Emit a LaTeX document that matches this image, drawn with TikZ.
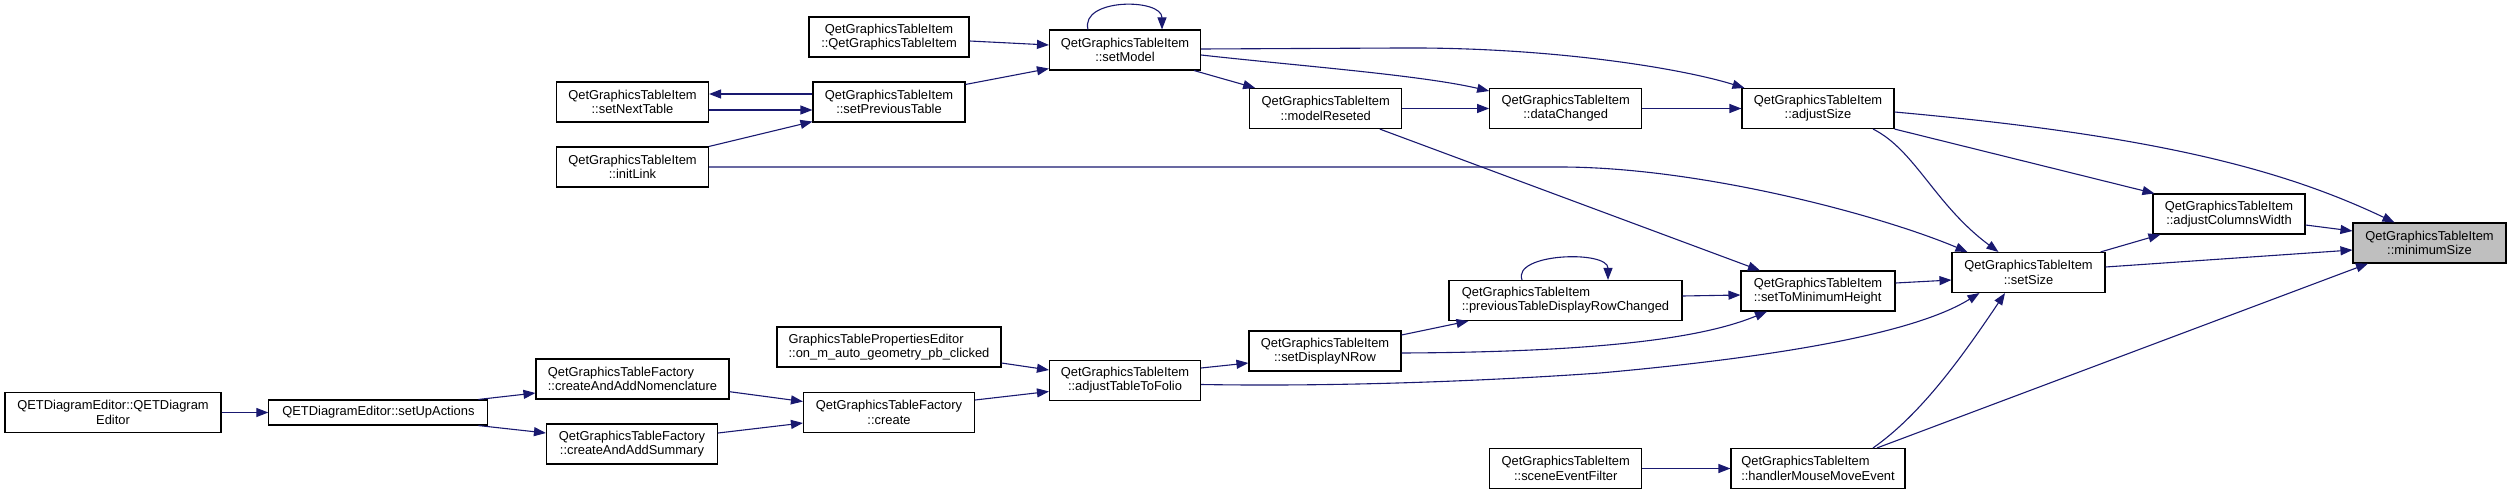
\documentclass[tikz,border=0pt]{standalone}
\usepackage{fontspec}
\setmainfont{Liberation Sans}
\usetikzlibrary{arrows.meta,calc}
\definecolor{edgeblue}{HTML}{191970}
\definecolor{rootfill}{HTML}{BFBFBF}
\begin{document}
\begin{tikzpicture}[x=1pt,y=-1pt,
  box/.style={draw=black, line width=1.1pt, fill=white, inner sep=0pt, minimum height=40pt, align=center, font=\fontsize{12.9}{14.3}\selectfont, text=black},
  lbox/.style={box, align=left},
  call/.style={draw=edgeblue, line width=1.1pt, -{Triangle[length=12pt,width=9pt]}}
]
\useasboundingbox (0,0) rectangle (2511,495);

\node[box, minimum width=216] (qetctor) at (113,412.5) {QETDiagramEditor::QETDiagram\\Editor};
\node[box, minimum width=219, minimum height=25] (setup) at (378.4,412.5) {QETDiagramEditor::setUpActions};
\node[lbox, minimum width=193] (nomen) at (632.5,379) {QetGraphicsTableFactory\\::createAndAddNomenclature};
\node[box, minimum width=171] (summary) at (632,444) {QetGraphicsTableFactory\\::createAndAddSummary};
\node[box, minimum width=171] (create) at (889,412.5) {QetGraphicsTableFactory\\::create};
\node[lbox, minimum width=224] (gtpe) at (889,347) {GraphicsTablePropertiesEditor\\::on\_m\_auto\_geometry\_pb\_clicked};
\node[box, minimum width=151] (adjfolio) at (1125,380.5) {QetGraphicsTableItem\\::adjustTableToFolio};
\node[box, minimum width=152] (dispnrow) at (1325,351) {QetGraphicsTableItem\\::setDisplayNRow};
\node[lbox, minimum width=233] (prevrow) at (1565.5,300.5) {QetGraphicsTableItem\\::previousTableDisplayRowChanged};
\node[lbox, minimum width=154] (tominh) at (1818,291) {QetGraphicsTableItem\\::setToMinimumHeight};
\node[box, minimum width=153] (setsize) at (2028.5,272.5) {QetGraphicsTableItem\\::setSize};
\node[box, minimum width=152] (adjcol) at (2229,214) {QetGraphicsTableItem\\::adjustColumnsWidth};
\node[box, fill=rootfill, minimum width=153] (minsize) at (2429.5,243) {QetGraphicsTableItem\\::minimumSize};
\node[box, minimum width=152] (scenefilter) at (1565.7,468.5) {QetGraphicsTableItem\\::sceneEventFilter};
\node[lbox, minimum width=174] (mousemove) at (1818,468.5) {QetGraphicsTableItem\\::handlerMouseMoveEvent};
\node[box, minimum width=160] (itemctor) at (889,37) {QetGraphicsTableItem\\::QetGraphicsTableItem};
\node[box, minimum width=151] (setmodel) at (1125,50) {QetGraphicsTableItem\\::setModel};
\node[box, minimum width=152] (nexttable) at (632.5,102) {QetGraphicsTableItem\\::setNextTable};
\node[box, minimum width=152] (prevtable) at (889,102) {QetGraphicsTableItem\\::setPreviousTable};
\node[box, minimum width=152] (initlink) at (632.5,167) {QetGraphicsTableItem\\::initLink};
\node[box, minimum width=152] (modelreset) at (1325.7,108.5) {QetGraphicsTableItem\\::modelReseted};
\node[box, minimum width=152] (datachanged) at (1565.7,108.5) {QetGraphicsTableItem\\::dataChanged};
\node[box, minimum width=152] (adjsize) at (1818,108.5) {QetGraphicsTableItem\\::adjustSize};

% edges into minimumSize
\draw[call] ($(adjcol.east)+(0,11)$) -- ($(minsize.west)+(0,-12)$);
\draw[call] ($(adjsize.east)+(0,3.5)$) .. controls (2150,135) and (2280,168) .. ($(minsize.north west)+(42,0)$);
\draw[call] ($(setsize.east)+(0,-5.5)$) -- ($(minsize.west)+(0,7)$);
\draw[call] ($(mousemove.north)+(59,0)$) -- ($(minsize.south)+(-61.5,0)$);
% adjustColumnsWidth
\draw[call] (adjsize.south east) -- ($(adjcol.north west)+(2,0)$);
\draw[call] ($(setsize.north east)+(-5,0)$) -- ($(adjcol.south west)+(8,0)$);
% setSize
\draw[call] ($(adjsize.south)+(55,0)$) .. controls (1915,150) and (1935,205) .. ($(setsize.north west)+(47,0)$);
\draw[call] (initlink.east) -- (1560,167) .. controls (1700,167) and (1880,215) .. ($(setsize.north west)+(16,0)$);
\draw[call] ($(tominh.east)+(0,-8)$) -- ($(setsize.west)+(0,7.5)$);
\draw[call] ($(adjfolio.east)+(0,4)$) .. controls (1350,387) and (1500,380) .. (1600,373) .. controls (1800,355) and (1920,330) .. ($(setsize.south)+(-49,0)$);
\draw[call] ($(mousemove.north)+(55,0)$) .. controls (1920,415) and (1960,360) .. ($(setsize.south)+(-23.5,0)$);
% setToMinimumHeight
\draw[call] ($(modelreset.south)+(54,0)$) -- ($(tominh.north)+(-58,0)$);
\draw[call] ($(prevrow.east)+(0,-4.5)$) -- ($(tominh.west)+(0,4)$);
\draw[call] ($(dispnrow.east)+(0,2)$) .. controls (1620,352) and (1710,335) .. ($(tominh.south)+(-51,0)$);
% previousTableDisplayRowChanged
\draw[call] ($(dispnrow.east)+(0,-16)$) -- ($(prevrow.south west)+(20,0)$);
\draw[call] ($(prevrow.north)+(-43.5,0)$) .. controls (1512,253) and (1608,250) .. ($(prevrow.north)+(42.5,0)$);
% handler
\draw[call] (scenefilter.east) -- (mousemove.west);
% bottom chain
\draw[call] ($(adjfolio.east)+(0,-12.5)$) -- ($(dispnrow.west)+(0,12)$);
\draw[call] ($(gtpe.east)+(0,16)$) -- ($(adjfolio.west)+(0,-10.5)$);
\draw[call] ($(create.east)+(0,-12.5)$) -- ($(adjfolio.west)+(0,11)$);
\draw[call] ($(nomen.east)+(0,12.7)$) -- ($(create.west)+(0,-11)$);
\draw[call] ($(summary.east)+(0,-11)$) -- ($(create.west)+(0,10.5)$);
\draw[call] ($(setup.north east)+(-10,0)$) -- ($(nomen.west)+(0,14)$);
\draw[call] ($(setup.south east)+(-10,0)$) -- ($(summary.west)+(0,-11)$);
\draw[call] (qetctor.east) -- (setup.west);
% top chain
\draw[call] ($(setmodel.north)+(-37,0)$) .. controls (1080,-2) and (1162,-2) .. ($(setmodel.north)+(37,0)$);
\draw[call] ($(itemctor.east)+(0,4)$) -- ($(setmodel.west)+(0,-5)$);
\draw[call] ($(prevtable.north east)+(0,3)$) -- ($(setmodel.south west)+(0,-2)$);
\draw[call] ($(setmodel.south east)+(-7,0)$) -- ($(modelreset.north west)+(6,0)$);
\draw[call] ($(setmodel.east)+(0,5)$) .. controls (1300,66) and (1420,75) .. ($(datachanged.west)+(0,-17.5)$);
\draw[call] ($(setmodel.east)+(0,-1)$) -- (1400,48) .. controls (1550,47) and (1680,68) .. ($(adjsize.north west)+(3,0)$);
\draw[call] (modelreset.east) -- (datachanged.west);
\draw[call] (datachanged.east) -- (adjsize.west);
\draw[call] ($(prevtable.west)+(0,-8)$) -- ($(nexttable.east)+(0,-8)$);
\draw[call] ($(nexttable.east)+(0,8)$) -- ($(prevtable.west)+(0,8)$);
\draw[call] (initlink.north east) -- ($(prevtable.south west)+(0,-1)$);
\end{tikzpicture}
\end{document}
